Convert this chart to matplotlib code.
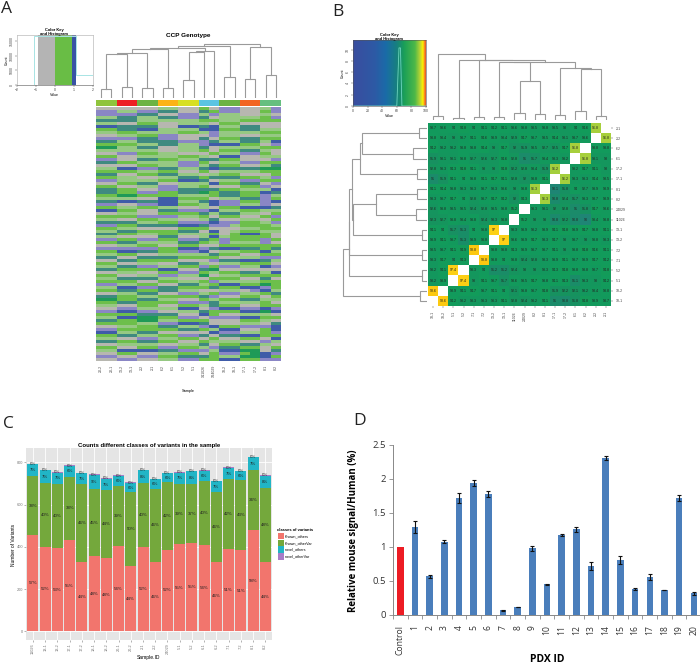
import numpy as np
import matplotlib
matplotlib.use('Agg')
import matplotlib.pyplot as plt
from matplotlib.colors import ListedColormap, LinearSegmentedColormap
from matplotlib.patches import Rectangle

W, H = 700, 664

# ---- panel A data
a_strip = ['#8fc43c', '#ed2024', '#6cb344', '#fbb316', '#d7df23', '#5bc4e2', '#6cb344', '#f26522', '#66bf7f']
a_samples = ['20-2', '20-1', '13-2', '13-1', '2-2', '2-1', '6-2', '6-1', '5-2', '5-1', 'X11026', 'X24029',
             '18-2', '18-1', '17-1', '17-2', '8-1', '8-2']
a_merges = [(0, 1, 27), (2, 3, 33), (4, 5, 31), (6, 7, 30), (8, 9, 55), (12, 13, 63), (14, 15, 59), (16, 17, 71),
            (18, 19, 132), (26, 20, 137), (27, 21, 148), (22, 10, 138), (29, 11, 143), (28, 30, 150),
            (31, 23, 158), (24, 25, 153), (32, 33, 162)]
a_key_edges = [-0.9, 0, 0.9, 1.1]
a_key_colors = ['#b4b4b4', '#69bd45', '#3953a4']
a_hist_x = [-2, -1.1, -1.1, 1.1, 1.1, 2]
a_hist_y = [0, 0, 16800, 16800, 3300, 3300]
a_cols = {'g': '#6dbf4b', 'l': '#96c883', 's': '#b7b7b0', 'p': '#8a86c5', 'b': '#3f5ca8', 't': '#3f8a80', 'd': '#1f9a57'}
a_rows = [
    "ss ss ss ll ss g s pp ss l p",
    "pp ll pp tt ss t g pp ss g p",
    "pp pp tt ss pp l p ll ss l s",
    "ll tt ll tt pp t s ll ll g p",
    "tt tt ll ll ll g g ll gg g g",
    "ll ss gg ss ll l s gg ss s s",
    "bb tt tt ss bb t b ll tt s s",
    "gg tt bb ll ll b b gg tt l l",
    "ll gg ll ll gg l p ll ll g g",
    "ss ll gg pp ss s p ll ss l l",
    "pp pp tt pp ss t s gg tt g g",
    "tt ll tt tt pp p t ll tt l b",
    "gg gg ll tt ll p b bb gg s p",
    "dd ll tt ss ll t s ll ll g g",
    "ll ll ll ss ll g s gg tt l s",
    "ss pp gg ll ss s g ll pp g s",
    "gg ss ll ll gg l s bb ss l l",
    "pp ss tt gg ll t t gg ss s p",
    "tt gg ll ll pp g s ll pp g g",
    "ss ss gg ll pp l t gg ss l t",
    "ll bb pp tt ll t b tt tt d d",
    "gg gg ll gg ss g s ll ll g g",
    "tt ss gg tt ll s l gg ss s g",
    "gg ll ss ll tt g t tt gg l p",
    "pp ll ll gg bb t s ll pp g g",
    "ss gg tt ss ll l b gg tt s p",
    "gg ss ll pp ll g s ss gg p s",
    "tt gg ss pp tt t t gg ll l b",
    "tt gg pp gg tt d g tt gg b t",
    "gg dd gg gg ll l g tt gg p l",
    "ll ll ss bb gg g s ll tt p g",
    "tt bb tt bb ll t b pp gg p b",
    "pp ss pp bb gg l b pp ll p s",
    "gg ll gg ll ss l s gg bb b t",
    "bb gg ss tt pp p b ll gg l l",
    "ss ll ss gg gg t l tt ll s g",
    "gg gg pp pp ll g s gg ss g p",
    "ll ss gg ll ss l t ss ll s g",
    "tt tt ll gg pp p b pp gg l p",
    "pp gg tt tt bb t p pl gg g l",
    "gg ll ss ss gg g s ss ll g g",
    "ll tt gg gg tt s b sl gg l l",
    "tt gg ll gg ll l g sg bb g s",
    "ll ss ss tt ss l b lg gg g s",
    "pp gg pp gg pp t g pg gg p g",
    "gg tt ll ll tt g l pl ll p s",
    "ss ll gg ss gg s s gg gg g g",
    "pp pp pp gg bb p t bb tt g t",
    "gg bb tt gg pp b s ll gg b l",
    "ll gg ss ll ll l t gg ss g g",
    "tt ss tt tt gg g g ss ll p p",
    "ss tt gg gg ss s p tt bb t l",
    "gg ss ll ss tt l s ll gg g s",
    "ll tt pp ll gg p g pp ll b p",
    "tt gg gg bb ss t d ss ss s s",
    "ss ll ss gg pp g l gg tt l b",
    "gg ss ll pp ll d s ll gg g g",
    "ll tt tt ll ss s g gg ss t s",
    "gg gg ss gg ll g p ll ll g g",
    "pp ll gg ss tt l g bb gg d g",
    "ll bb pp tt gg g t gg bb p g",
    "gg tt gg tt ll s s ll sp b l",
    "ss ll tt ss pp l g pp ll g t",
    "tt gg ll gg gg t p ss gg s g",
    "dd gg tt ll ss g l gg tt l l",
    "gg tt gg gg pp p t ll ll g s",
    "ll ss gg ss gg l t gg ss g g",
    "ss pp ll ll bb s p bb pp b p",
    "pp bb pp ss ll t g gg bb d b",
    "gg gg tt tt ss b g ss ll l s",
    "ll bb dd gg pp s p pp bb g g",
    "tt gg dd ll gg g s ss gg l s",
    "gg gg ll pp bb t s ss ll s t",
    "ss ll gg tt ll p b gg pp p b",
    "pp gg gg gg tt g l bb ss g b",
    "bb ll tt ss ss s b pp ll g p",
    "gg tt ll gg pp t s tt bb g g",
    "ll ss pp ll gg s g ss gg s b",
    "tt gg tt gg ss g l ll ss p l",
    "ss ll ll ss ll t s gg tt l s",
    "gg ss gg pp gg l p tt gg s g",
    "ll bb bb tt pp p l bb dd s t",
    "ss gg ss ll gg s g pp gd b p",
    "pp ss pp gg tt t g ll dd b g",
    "ss pp ss ll pp g g bb gg p p",
]

# ---- panel B data
b_key_nodes = [(0, '#3a4d9f'), (0.3, '#2d5aa5'), (0.45, '#1a6ba8'), (0.6, '#17807f'), (0.7, '#1a9f58'),
               (0.85, '#4db848'), (0.92, '#b5d334'), (0.96, '#fff200'), (0.98, '#f7931e'), (1, '#e8502a')]
b_hist_x = [0, 60, 63, 65, 67, 100]
b_hist_y = [0, 0, 10.3, 10.3, 0, 0]
b_rows = ['2-1', '2-2', '6-2', '6-1', '17-2', '17-1', '8-1', '8-2', '24029', '11026',
          '13-1', '13-2', '7-2', '7-1', '5-2', '5-1', '18-2', '18-1']
b_cols = ['18-1', '18-2', '5-1', '5-2', '7-1', '7-2', '13-2', '13-1', '11026', '24029',
          '8-2', '8-1', '17-1', '17-2', '6-1', '6-2', '2-2', '2-1']
n = np.nan
b_vals = [
    [93.7, 93.6, 94.0, 94.8, 94.0, 94.1, 94.2, 94.1, 93.6, 93.8, 93.5, 93.8, 93.5, 93, 94, 94.6, 96.8, n],
    [93.8, 93.4, 93, 93.7, 94.1, 94.6, 93.9, 93.4, 92.9, 94.7, 93.7, 93.5, 94.4, 93.1, 93.7, 93.6, n, 96.8],
    [94.2, 93.2, 93.2, 93.8, 93.8, 94.4, 93, 94.7, 92, 91.9, 93.5, 92.7, 92.5, 94.7, 96.8, n, 93.8, 93.8],
    [91.9, 93.1, 93.1, 93.8, 92.7, 92.6, 92.7, 94.6, 92.8, 91, 91.7, 93.4, 93.3, 93.2, n, 96.8, 93.1, 93],
    [92.8, 93.3, 94.3, 94.8, 94.1, 93, 93, 94.8, 92.2, 92.8, 93.4, 91.9, 96.2, n, 93.2, 94.7, 94.1, 93],
    [91, 91.9, 94.1, 94.0, 93.8, 94.1, 94.7, 94.1, 92.8, 92, 93.8, 94.1, n, 96.2, 93.3, 93.3, 94.4, 93.5],
    [94.1, 94.4, 93.8, 93.3, 93.3, 93.7, 93.3, 93.6, 93, 93.8, 96.3, n, 90.1, 91.8, 94.0, 92.7, 93.9, 93.9],
    [93.3, 93.7, 94.7, 94, 92.8, 93.7, 94.7, 94.2, 92, 94.3, n, 96.3, 90.8, 92.4, 91.7, 93.3, 93.7, 93.9],
    [92.6, 93.8, 93.5, 93.5, 92.4, 92.8, 93.5, 93.8, 95.2, n, 93.3, 93.1, 92, 92.8, 91, 91.8, 94.7, 93.6],
    [92.3, 92.7, 93.8, 93.4, 93.8, 92.4, 93.3, 93.8, n, 95.2, 93, 93, 90.8, 92.2, 90.8, 90, 93.4, 93.8],
    [94.1, 94, 91.7, 91.3, 94, 93.8, 97, n, 93.3, 93.9, 93.2, 93.9, 94.1, 94.8, 93.9, 94.7, 93.8, 94.1],
    [93.9, 94.1, 93.7, 91.3, 93.9, 93.8, n, 97, 93.6, 93.9, 94.7, 93.3, 94.7, 93, 93.7, 93, 93.8, 93.3],
    [93.5, 93.7, 94.1, 94.9, 98.8, n, 93.8, 93.8, 94.3, 93.9, 93.7, 93.7, 94.1, 93, 93.8, 94.8, 94.6, 94.1],
    [93.3, 94.7, 94, 94.3, n, 98.8, 93.8, 94, 93.8, 92.4, 92.8, 93.3, 93.9, 94.1, 93.7, 93.9, 94.7, 94.2],
    [93.2, 94.1, 97.4, n, 93.3, 94.0, 91.2, 91.2, 92.4, 93.0, 93, 93.3, 94.3, 94.8, 93.8, 93.8, 93.7, 94.8],
    [93.2, 93.9, n, 97.4, 93, 94.1, 93.7, 91.7, 93.6, 93.5, 94.7, 93.8, 94.1, 94.3, 91.1, 93.3, 93, 94.2],
    [98.6, n, 93.9, 94.1, 94.7, 93.7, 94.1, 94, 92.1, 93.8, 93.7, 94.8, 91.9, 92.2, 92.1, 93.2, 93.4, 93.8],
    [n, 98.6, 94.2, 93.2, 93.3, 93.3, 93.3, 94.1, 92.8, 92.4, 93.2, 94.1, 91, 90.8, 91.8, 94.8, 93.9, 93.7],
]
b_top_merges = [(0, 1, 12), (2, 3, 7), (4, 5, 8), (6, 7, 8), (8, 9, 22), (10, 11, 19), (12, 13, 16), (14, 15, 28),
                (16, 17, 13), (22, 23, 118), (21, 27, 173), (25, 26, 152), (24, 29, 155), (28, 30, 175),
                (20, 31, 180), (19, 32, 181), (18, 33, 197)]
b_left_merges = [(0, 1, 22), (2, 3, 40), (4, 5, 28), (6, 7, 28), (8, 9, 32), (10, 11, 15), (12, 13, 15), (14, 15, 15),
                 (16, 17, 20), (18, 19, 195), (27, 20, 200), (21, 22, 153), (29, 23, 222), (28, 30, 224),
                 (31, 24, 232), (32, 25, 233), (33, 26, 252)]

# ---- panel C data
c_samples = ['11026', '13-1', '13-2', '17-1', '17-2', '18-1', '18-2', '20-1', '20-2', '2-1', '2-2', '24029',
             '5-1', '5-2', '6-1', '6-2', '7-1', '7-2', '8-1', '8-2']
known_offsets = [454, 397, 395, 433, 329, 357, 348, 402, 310, 398, 329, 387, 414, 416, 410, 330, 390, 384, 481, 326]
known_other = [280, 305, 304, 299, 368, 315, 319, 284, 348, 304, 345, 318, 285, 283, 303, 328, 331, 331, 283, 354]
novel_offsets = [57, 60, 52, 51, 51, 68, 56, 49, 45, 60, 45, 43, 52, 58, 47, 52, 52, 42, 60, 57]
novel_other = [3, 3, 3, 3, 3, 3, 3, 3, 3, 3, 3, 3, 3, 3, 3, 3, 3, 3, 3, 3]
pct_offsets = [57, 52, 53, 55, 44, 48, 48, 54, 44, 52, 46, 52, 55, 55, 54, 46, 51, 51, 58, 44]
pct_other = [38, 40, 40, 38, 46, 45, 44, 39, 50, 40, 46, 42, 39, 37, 40, 46, 42, 43, 34, 48]
pct_novel = [7, 7, 7, 6, 7, 9, 7, 6, 6, 8, 6, 6, 7, 8, 6, 7, 7, 6, 7, 8]
c_colors = ['#f2756d', '#74a83c', '#21b5c6', '#a87cc8']
c_names = ['Known_others', 'Known_otherVar', 'novel_others', 'novel_otherVar']

# ---- panel D data
d_labels = ['Control'] + [str(i) for i in range(1, 21)]
d_vals = [1, 1.29, .57, 1.08, 1.72, 1.94, 1.78, .07, .12, .98, .45, 1.17, 1.26, .72, 2.31, .81, .38, .56, .37, 1.72, .32]
d_errs = [0, .09, .02, .02, .08, .05, .05, .005, .005, .04, .005, .015, .04, .06, .03, .06, .01, .04, .005, .05, .02]

plt.rcParams['font.family'] = ['Liberation Sans', 'DejaVu Sans']
fig = plt.figure(figsize=(7, 6.64), dpi=100)


def box(x0, y0, x1, y1):
    return fig.add_axes([x0 / W, 1 - y1 / H, (x1 - x0) / W, (y1 - y0) / H])


def tree(ax, merges, count, sideways=False):
    pos = {i: (i, 0) for i in range(count)}
    for k, (a, b, h) in enumerate(merges):
        xa, ha = pos[a]
        xb, hb = pos[b]
        xs, ys = [xa, xa, xb, xb], [ha, h, h, hb]
        if sideways:
            xs, ys = ys, xs
        ax.plot(xs, ys, color='#9a9a9a', lw=0.8, solid_joinstyle='miter')
        pos[count + k] = ((xa + xb) / 2, h)
    ax.axis('off')


def small_axes(ax):
    ax.tick_params(labelsize=2.5, length=1.2, width=0.3, pad=0.8, colors='#444444')
    for s in ax.spines.values():
        s.set_linewidth(0.4)
        s.set_color('#555555')


def letter(s, x, y):
    fig.text(x / W, 1 - y / H, s, fontsize=12.5, family='Open Sans', va='center', ha='left', color='#222222')


letter('A', 1, 9)
letter('B', 332, 12)
letter('C', 3, 424)
letter('D', 353, 421)

# A: colour key
ax = box(16.7, 35, 92.7, 85)
for k, c in enumerate(a_key_colors):
    ax.axvspan(a_key_edges[k], a_key_edges[k + 1], color=c, lw=0)
ax.plot(a_hist_x, a_hist_y, color='#a8e4e4', lw=0.7)
ax.set_xlim(-2, 2)
ax.set_ylim(0, 17000)
ax.set_xticks([-2, -1, 0, 1, 2])
ax.set_yticks([0, 5000, 10000, 15000])
ax.set_yticklabels(['0', '5000', '10000', '15000'], rotation=90, va='center')
small_axes(ax)
for s in ['top', 'left', 'right']:
    ax.spines[s].set_color('#aaaaaa')
ax.set_xlabel('Value', fontsize=2.6, labelpad=1)
ax.set_ylabel('Count', fontsize=2.6, labelpad=1)
fig.text(54.5 / W, 1 - 32 / H, 'Color Key\nand Histogram', fontsize=2.9, weight='bold', ha='center', va='center')

# A: dendrogram, strip, heatmap
ax = box(96, 41.7, 281, 98.3)
tree(ax, a_merges, 18)
ax.set_xlim(-0.5, 17.5)
ax.set_ylim(0, 170)
fig.text(188.5 / W, 1 - 35.5 / H, 'CCP Genotype', fontsize=4.6, weight='bold', ha='center', va='center')

ax = box(96, 100, 281, 106)
for k, c in enumerate(a_strip):
    ax.add_patch(Rectangle((k, 0), 1, 1, color=c, lw=0))
ax.set_xlim(0, 9)
ax.set_ylim(0, 1)
ax.axis('off')

codes = list(a_cols)
grid = []
for r in a_rows:
    cells = list(r.replace(' ', ''))
    cells = (cells + cells[-1:] * 18)[:18]
    grid.append([codes.index(c) for c in cells])
ax = box(96, 107, 281, 361)
ax.imshow(grid, aspect='auto', cmap=ListedColormap([a_cols[c] for c in codes]), interpolation='nearest')
ax.set_xticks(range(18))
ax.set_xticklabels(a_samples, rotation=90)
ax.set_yticks([])
small_axes(ax)
ax.tick_params(length=0, pad=3)
for s in ax.spines.values():
    s.set_visible(False)
fig.text(188.5 / W, 1 - 391 / H, 'Sample', fontsize=2.8, ha='center', va='center')

# B: colour key
key_cmap = LinearSegmentedColormap.from_list('key', b_key_nodes)
ax = box(353, 40, 426, 106)
ax.imshow([np.linspace(0, 1, 256)], aspect='auto', cmap=key_cmap, extent=[0, 100, 0, 11.7])
ax.plot(b_hist_x, b_hist_y, color='#6fd6c0', lw=0.6)
ax.set_xlim(0, 100)
ax.set_ylim(0, 11.7)
ax.set_xticks([0, 20, 40, 60, 80, 100])
ax.set_yticks([0, 2, 4, 6, 8, 10])
ax.set_yticklabels(['0', '2', '4', '6', '8', '10'], rotation=90, va='center')
small_axes(ax)
ax.set_xlabel('Value', fontsize=2.6, labelpad=1)
ax.set_ylabel('Count', fontsize=2.6, labelpad=1)
fig.text(389 / W, 1 - 37 / H, 'Color Key\nand Histogram', fontsize=2.9, weight='bold', ha='center', va='center')

# B: dendrograms
ax = box(428, 53.3, 611, 120)
tree(ax, b_top_merges, 18)
ax.set_xlim(-0.5, 17.5)
ax.set_ylim(0, 200)
ax = box(340, 123, 426.7, 306)
tree(ax, b_left_merges, 18, sideways=True)
ax.set_xlim(260, 0)
ax.set_ylim(17.5, -0.5)

# B: heatmap
heat_cmap = LinearSegmentedColormap.from_list('heat', [
    (0, '#1f8575'), (2 / 9, '#17925f'), (4 / 9, '#129b5c'), (5.6 / 9, '#149c58'),
    (6 / 9, '#a3cf3e'), (6.85 / 9, '#a8d03c'), (7 / 9, '#fcd116'), (1, '#fdc80f')])
heat_cmap.set_bad('white')
arr = np.ma.masked_invalid(np.array(b_vals, dtype=float))
ax = box(428, 123, 611, 306)
ax.imshow(arr, aspect='auto', cmap=heat_cmap, vmin=90, vmax=99, interpolation='nearest')
for i, row in enumerate(b_vals):
    for j, v in enumerate(row):
        if not np.isnan(v):
            ax.text(j, i, f'{v:g}', fontsize=2.6, ha='center', va='center', color='#222222')
ax.set_xticks(range(18))
ax.set_xticklabels(b_cols, rotation=90)
ax.set_yticks(range(18))
ax.set_yticklabels(b_rows)
ax.yaxis.tick_right()
small_axes(ax)
ax.tick_params(pad=2.5)
for s in ax.spines.values():
    s.set_visible(False)

# C: stacked bars
ax = box(26, 448, 272, 640)
ax.set_facecolor('#e5e5e5')
ax.grid(True, color='white', lw=0.6)
ax.set_axisbelow(True)
xs = np.arange(20)
series = [known_offsets, known_other, novel_offsets, novel_other]
base = np.zeros(20)
for vals, col, name in zip(series, c_colors, c_names):
    ax.bar(xs, vals, 0.9, bottom=base, color=col, label=name, lw=0)
    base = base + np.array(vals)
bottoms = np.zeros(20)
for vals, pct in zip(series, [pct_offsets, pct_other, pct_novel, [0] * 20]):
    for i in range(20):
        ax.text(i, bottoms[i] + vals[i] / 2, f'{pct[i]}%', fontsize=3.2, ha='center', va='center', color='#222222')
    bottoms = bottoms + np.array(vals)
ax.set_xlim(-0.57, 19.55)
ax.set_ylim(-41, 868)
ax.set_xticks(xs)
ax.set_xticklabels(c_samples, rotation=90)
ax.set_yticks([0, 200, 400, 600, 800])
ax.tick_params(labelsize=2.8, length=1.2, width=0.4, pad=1, colors='#777777')
for s in ax.spines.values():
    s.set_visible(False)
fig.text(149 / W, 1 - 445 / H, 'Counts different classes of variants in the sample', fontsize=4.3, weight='bold', ha='center', va='center')
fig.text(149 / W, 1 - 657 / H, 'Sample.ID', fontsize=3.6, ha='center', va='center')
fig.text(14 / W, 1 - 545 / H, 'Number of Variants', fontsize=3.5, rotation=90, ha='center', va='center')
fig.text(277 / W, 1 - 530 / H, 'classes of variants', fontsize=2.9, weight='bold', va='center')
for k, (col, name) in enumerate(zip(c_colors, c_names)):
    y0 = 533 + k * 6.7
    fig.patches.append(Rectangle((277.5 / W, 1 - (y0 + 6.4) / H), 6 / W, 6.4 / H, color=col, lw=0, transform=fig.transFigure))
    fig.text(285 / W, 1 - (y0 + 3.2) / H, name, fontsize=2.7, va='center')

# D: bars with error bars
ax = box(393, 445, 700, 615)
xd = np.arange(21)
bar_cols = ['#ed1c24'] + ['#4a7ebb'] * 20
ax.bar(xd, d_vals, 0.45, color=bar_cols, lw=0)
ax.errorbar(xd[1:], d_vals[1:], yerr=d_errs[1:], fmt='none', ecolor='#111111', elinewidth=0.8, capsize=1.6, capthick=0.8)
ax.set_xlim(-0.5, 20.42)
ax.set_ylim(0, 2.5)
ax.set_yticks([0, 0.5, 1, 1.5, 2, 2.5])
ax.set_yticklabels(['0', '0.5', '1', '1.5', '2', '2.5'], fontsize=6.8, family='Open Sans', color='#333333')
ax.set_xticks(xd - 0.5)
ax.set_xticklabels([])
ax.set_xticks(xd, minor=True)
ax.set_xticklabels(d_labels, minor=True, rotation=90, fontsize=6.2, family='Open Sans', color='#333333')
ax.tick_params(axis='x', which='major', length=3, width=0.6, color='#888888')
ax.tick_params(axis='x', which='minor', length=0, pad=7)
ax.tick_params(axis='y', length=3, width=0.6, color='#888888', pad=2)
for s in ['top', 'right']:
    ax.spines[s].set_visible(False)
for s in ['left', 'bottom']:
    ax.spines[s].set_color('#888888')
    ax.spines[s].set_linewidth(0.7)
fig.text(547 / W, 1 - 659 / H, 'PDX ID', fontsize=7.5, weight='bold', family='Open Sans', ha='center', va='center')
fig.text(354 / W, 1 - 531 / H, 'Relative mouse signal/Human (%)', fontsize=7, weight='bold', family='Open Sans',
         rotation=90, ha='center', va='center')

fig.savefig('out.png', dpi=100)
